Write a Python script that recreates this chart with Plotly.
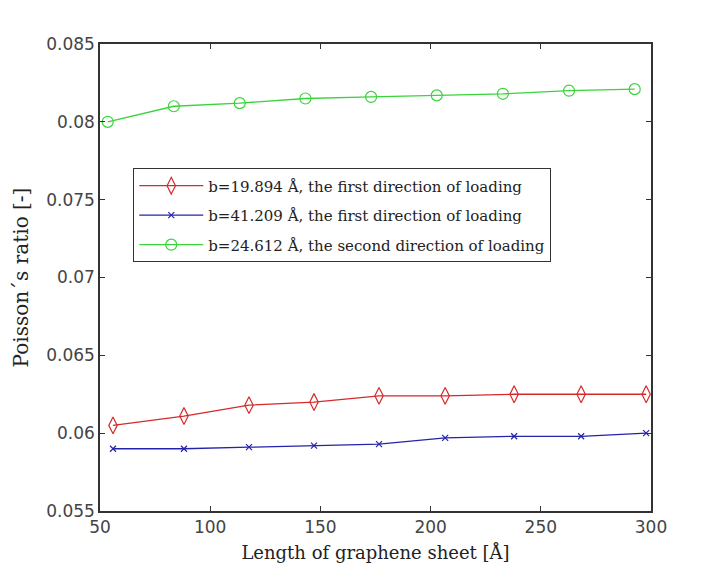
import plotly.graph_objects as go

# Length of graphene sheet [Å]
x_first = [55.9, 88.1, 117.6, 147.1, 176.6, 206.6, 237.9, 268.3, 297.8]
x_second = [53.5, 83.5, 113.4, 143.2, 173.0, 202.8, 232.8, 262.8, 292.6]

# Poisson's ratio
nu_b19 = [0.0605, 0.0611, 0.0618, 0.0620, 0.0624, 0.0624, 0.0625, 0.0625, 0.0625]
nu_b41 = [0.0590, 0.0590, 0.0591, 0.0592, 0.0593, 0.0597, 0.0598, 0.0598, 0.0600]
nu_b24 = [0.0800, 0.0810, 0.0812, 0.0815, 0.0816, 0.0817, 0.0818, 0.0820, 0.0821]

names = [
    "b=19.894 Å, the first direction of loading",
    "b=41.209 Å, the first direction of loading",
    "b=24.612 Å, the second direction of loading",
]

x_ticks = [50, 100, 150, 200, 250, 300]
y_ticks = [0.055, 0.06, 0.065, 0.07, 0.075, 0.08, 0.085]
y_labels = ["0.055", "0.06", "0.065", "0.07", "0.075", "0.08", "0.085"]

fig = go.Figure()
fig.add_trace(go.Scatter(
    x=x_first, y=nu_b19, name=names[0], mode="lines+markers", legendgroup="a",
    line=dict(color="#d42a2a", width=1.3),
    marker=dict(symbol="diamond-tall-open", size=12, color="#d42a2a", line=dict(width=1.2)),
))
fig.add_trace(go.Scatter(
    x=x_first, y=nu_b41, name=names[1], mode="lines+markers", legendgroup="b",
    line=dict(color="#2424aa", width=1.3),
    marker=dict(symbol="x-thin-open", size=6, color="#2424aa", line=dict(width=1.2, color="#2424aa")),
))
fig.add_trace(go.Scatter(
    x=x_second, y=nu_b24, name=names[2], mode="lines+markers", legendgroup="c",
    line=dict(color="#3ad43a", width=1.3),
    marker=dict(symbol="circle-open", size=11, color="#3ad43a", line=dict(width=1.2)),
))

axis_common = dict(
    showline=True, linecolor="#333333", linewidth=1.5, mirror="ticks",
    ticks="inside", ticklen=5, tickcolor="#333333", tickwidth=1.2,
    showgrid=False, zeroline=False,
    tickfont=dict(family="DejaVu Sans", size=17, color="#444444"),
)

# page body adds an 8px offset, so margins are shifted to compensate
fig.update_layout(
    width=720, height=575,
    paper_bgcolor="white", plot_bgcolor="white",
    margin=dict(l=92, r=77, t=36, b=72),
    xaxis=dict(range=[50, 300], tickvals=x_ticks,
               title=dict(text="Length of graphene sheet [Å]", standoff=10,
                          font=dict(family="DejaVu Serif", size=18, color="#222222")),
               **axis_common),
    yaxis=dict(range=[0.055, 0.085], tickvals=y_ticks, ticktext=y_labels,
               title=dict(text="Poisson´s ratio [-]", standoff=12,
                          font=dict(family="DejaVu Serif", size=20, color="#222222")),
               **axis_common),
    legend=dict(x=0.06, y=0.734, xanchor="left", yanchor="top",
                bgcolor="white", bordercolor="#333333", borderwidth=1.2,
                font=dict(family="DejaVu Serif", size=15, color="#222222"),
                tracegroupgap=7, itemwidth=64),
    showlegend=True,
)

fig.write_html("out.html")
